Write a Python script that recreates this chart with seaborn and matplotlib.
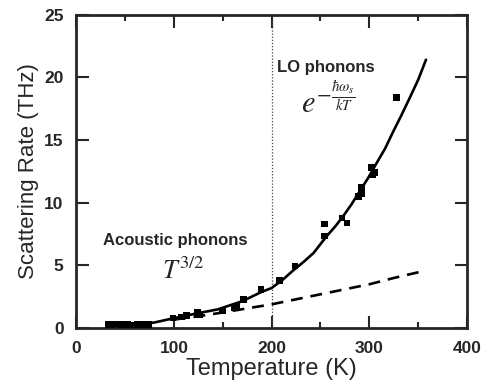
import matplotlib
matplotlib.use("Agg")
import matplotlib.pyplot as plt
import seaborn as sns
import pandas as pd

temp_pts = [33, 37, 41, 45, 49, 53, 58, 63, 68, 74, 99, 108, 113, 124, 126, 150, 162, 164,
            171, 189, 208, 224, 254, 254, 272, 277, 289, 292, 292, 302, 304, 306, 328]
rate_pts = [0.3, 0.3, 0.35, 0.3, 0.3, 0.3, 0.25, 0.3, 0.3, 0.3, 0.8, 0.9, 1.0, 1.25, 1.1, 1.35, 1.6, 1.75,
            2.3, 3.1, 3.8, 4.95, 7.35, 8.3, 8.8, 8.4, 10.5, 10.7, 11.2, 12.8, 12.2, 12.4, 18.4]

# total fit (solid) and acoustic part (dashed)
fit_T = [32, 60, 80, 100, 125, 145, 170, 190, 200, 212, 222, 233, 243, 256, 265, 273, 282, 290,
         299, 307, 316, 324, 333, 341, 350, 358]
fit_R = [0.2, 0.3, 0.45, 0.8, 1.2, 1.5, 2.15, 2.9, 3.2, 3.9, 4.6, 5.3, 6.0, 7.3, 8.1, 8.9, 9.9, 10.9,
         12.0, 13.1, 14.3, 15.6, 17.0, 18.3, 19.8, 21.4]
ac_T = [100, 125, 150, 175, 200, 225, 250, 275, 300, 325, 358]
ac_R = [0.68, 0.95, 1.25, 1.58, 1.9, 2.3, 2.7, 3.1, 3.5, 4.0, 4.6]

sns.set_style("ticks")
plt.rcParams['font.family'] = ['Liberation Sans', 'DejaVu Sans']

fig = plt.figure(figsize=(4.82, 3.87), dpi=100)
ax = fig.add_axes([0.158, 0.152, 0.811, 0.8105])

ax.axvline(200, color="#444444", lw=0.9, ls=(0, (1, 1.5)), zorder=1)

sns.lineplot(x=fit_T, y=fit_R, color="black", lw=1.9, ax=ax, zorder=2)
sns.lineplot(x=ac_T, y=ac_R, color="black", lw=1.9, ls=(0, (4.5, 3)), ax=ax, zorder=2)
sns.scatterplot(x=temp_pts, y=rate_pts, marker="s", s=22, color="black", edgecolor="none", ax=ax, zorder=3)

ax.set_xlim(0, 400)
ax.set_ylim(0, 25)
ax.set_xticks([0, 100, 200, 300, 400])
ax.set_xticks([50, 150, 250, 350], minor=True)
ax.set_yticks([0, 5, 10, 15, 20, 25])
ax.tick_params(which="both", direction="in", top=True, right=True, width=1.5)
ax.tick_params(which="major", length=9, pad=9, labelsize=12.5)
ax.tick_params(which="minor", length=4.5)
for lab in ax.get_xticklabels() + ax.get_yticklabels():
    lab.set_fontweight("bold")
for sp in ax.spines.values():
    sp.set_linewidth(2)

ax.set_xlabel("Temperature (K)", fontsize=17, labelpad=2)
ax.set_ylabel("Scattering Rate (THz)", fontsize=16, labelpad=4)

ax.text(206, 20.8, "LO phonons", fontsize=12, fontweight="bold", va="center")
ax.text(230, 18.0, r"$e^{-\frac{\hbar\omega_s}{kT}}$", fontsize=22, math_fontfamily="stix", va="center")
ax.text(27, 6.95, "Acoustic phonons", fontsize=12, fontweight="bold", va="center")
ax.text(88, 4.6, r"$T^{3/2}$", fontsize=19, math_fontfamily="stix", va="center")

fig.savefig("out.png", dpi=100)
